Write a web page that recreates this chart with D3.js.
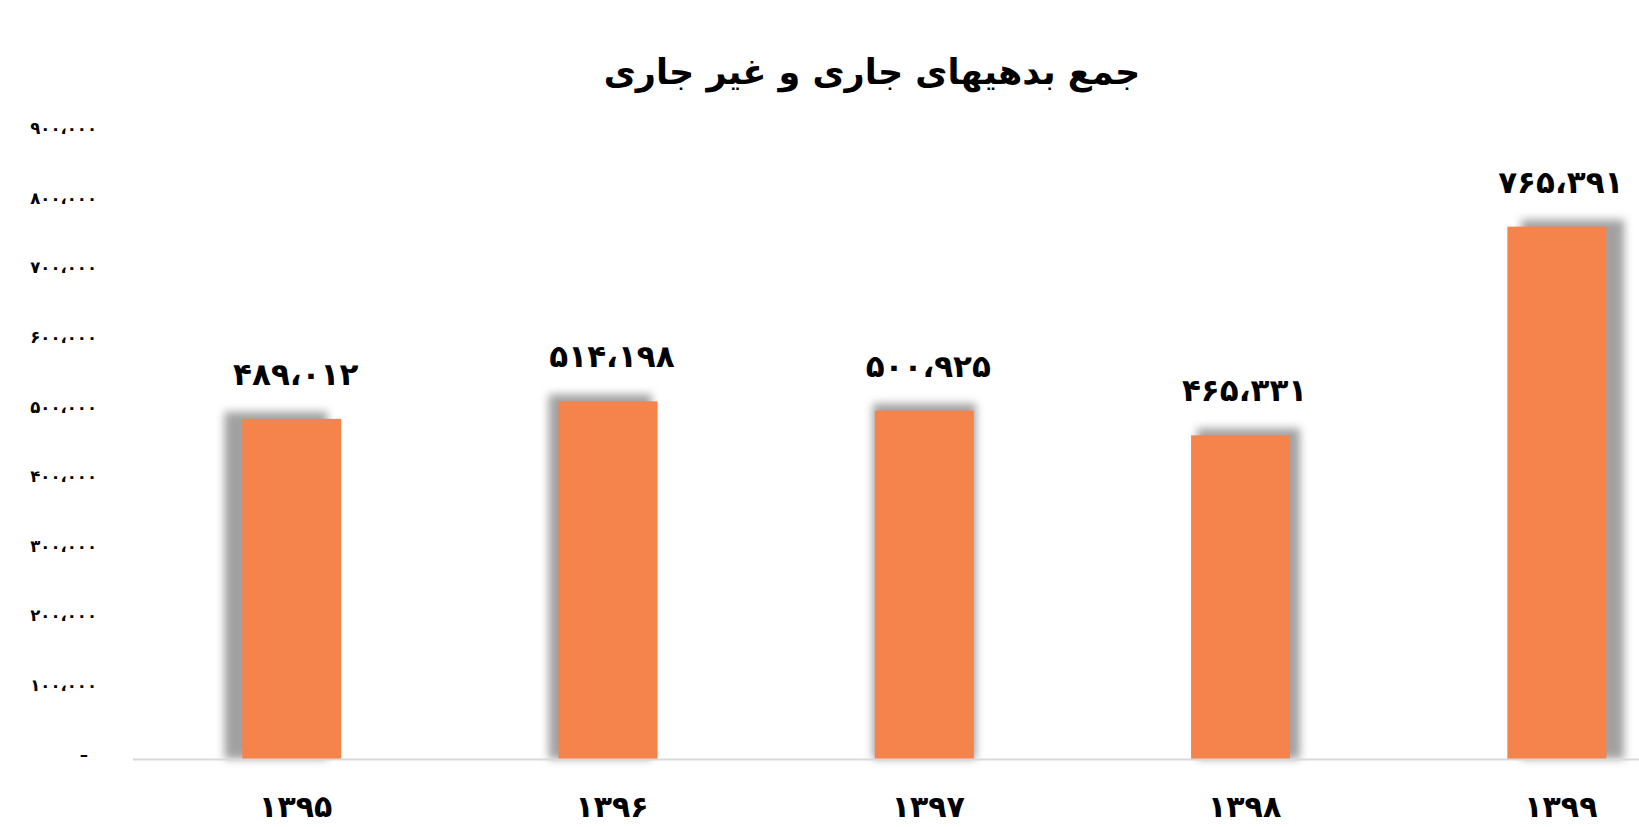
<!DOCTYPE html>
<html>
<head>
<meta charset="utf-8">
<script src="https://cdn.jsdelivr.net/npm/d3@7"></script>
<style>
  html, body { margin: 0; padding: 0; background: #fff; }
  svg { display: block; }
  text { font-family: "DejaVu Sans", "Liberation Serif", sans-serif; font-weight: bold; fill: #000; }
</style>
</head>
<body>
<svg id="chart" width="1639" height="827"></svg>
<script>
const title = "جمع بدهیهای جاری و غیر جاری";
const years = ["۱۳۹۵", "۱۳۹۶", "۱۳۹۷", "۱۳۹۸", "۱۳۹۹"];
const values = [489012, 514198, 500925, 465331, 765391];
const tickValues = [0, 100000, 200000, 300000, 400000, 500000, 600000, 700000, 800000, 900000];

const faDigits = "۰۱۲۳۴۵۶۷۸۹";
function toFa(n) {
  if (n === 0) return "–";
  return d3.format(",")(n).replace(/\d/g, d => faDigits[+d]).replace(/,/g, "،");
}

const W = 1639, H = 827;
const svg = d3.select("#chart");
const defs = svg.append("defs");
const f = defs.append("filter").attr("id", "blur").attr("x", "-30%").attr("y", "-10%").attr("width", "160%").attr("height", "120%");
f.append("feGaussianBlur").attr("stdDeviation", 4.5);

const x = d3.scaleBand().domain(years).range([133.6, 1715]).paddingInner(0.687).paddingOuter(0.3435);
const y = d3.scaleLinear().domain([0, 900000]).range([759, 133]);

// title
svg.append("text").attr("x", 872).attr("y", 84).attr("text-anchor", "middle")
  .attr("font-size", 35).attr("direction", "rtl").style("unicode-bidi", "plaintext").text(title);

// y axis (labels only)
const yAxis = d3.axisLeft(y).tickValues(tickValues).tickFormat(toFa).tickSize(0).tickPadding(0);
const gy = svg.append("g").attr("transform", "translate(97,0)").call(yAxis);
gy.select(".domain").remove();
gy.selectAll("text").attr("font-size", 16.5).attr("dy", "0.05em")
  .attr("dx", d => d === 0 ? -9 : 0)
  .style("font-family", "'DejaVu Sans', sans-serif").style("font-weight", "bold").attr("fill", "#000");

const center = 923.5;
const data = years.map((yr, i) => ({ yr, v: values[i] }));

// shadows
svg.append("g").selectAll("rect").data(data).join("rect")
  .attr("x", d => x(d.yr) + (x(d.yr) + x.bandwidth() / 2 - center) * 0.025 - 2)
  .attr("y", d => y(d.v) - 7)
  .attr("width", x.bandwidth() + 4)
  .attr("height", d => y(0) - y(d.v) + 7)
  .attr("fill", "#8a8a8a").attr("opacity", 0.8).attr("filter", "url(#blur)");

// bars
svg.append("g").selectAll("rect").data(data).join("rect")
  .attr("x", d => x(d.yr)).attr("y", d => y(d.v))
  .attr("width", x.bandwidth()).attr("height", d => y(0) - y(d.v))
  .attr("fill", "#f4844c");

// baseline
svg.append("line").attr("x1", 133).attr("x2", W).attr("y1", 759.5).attr("y2", 759.5)
  .attr("stroke", "#d9d9d9").attr("stroke-width", 2);

// value labels
svg.append("g").selectAll("text").data(data).join("text")
  .attr("x", d => x(d.yr) + x.bandwidth() / 2 + 4)
  .attr("y", d => y(d.v) - 34)
  .attr("text-anchor", "middle").attr("font-size", 31)
  .text(d => toFa(d.v));

// x axis labels
const xAxis = d3.axisBottom(x).tickSize(0).tickPadding(0);
const gx = svg.append("g").attr("transform", "translate(4,0)").call(xAxis);
gx.select(".domain").remove();
gx.selectAll("text").attr("y", 817).attr("dy", 0).attr("font-size", 30)
  .style("font-family", "'DejaVu Sans', sans-serif").style("font-weight", "bold").attr("fill", "#000");
</script>
</body>
</html>
